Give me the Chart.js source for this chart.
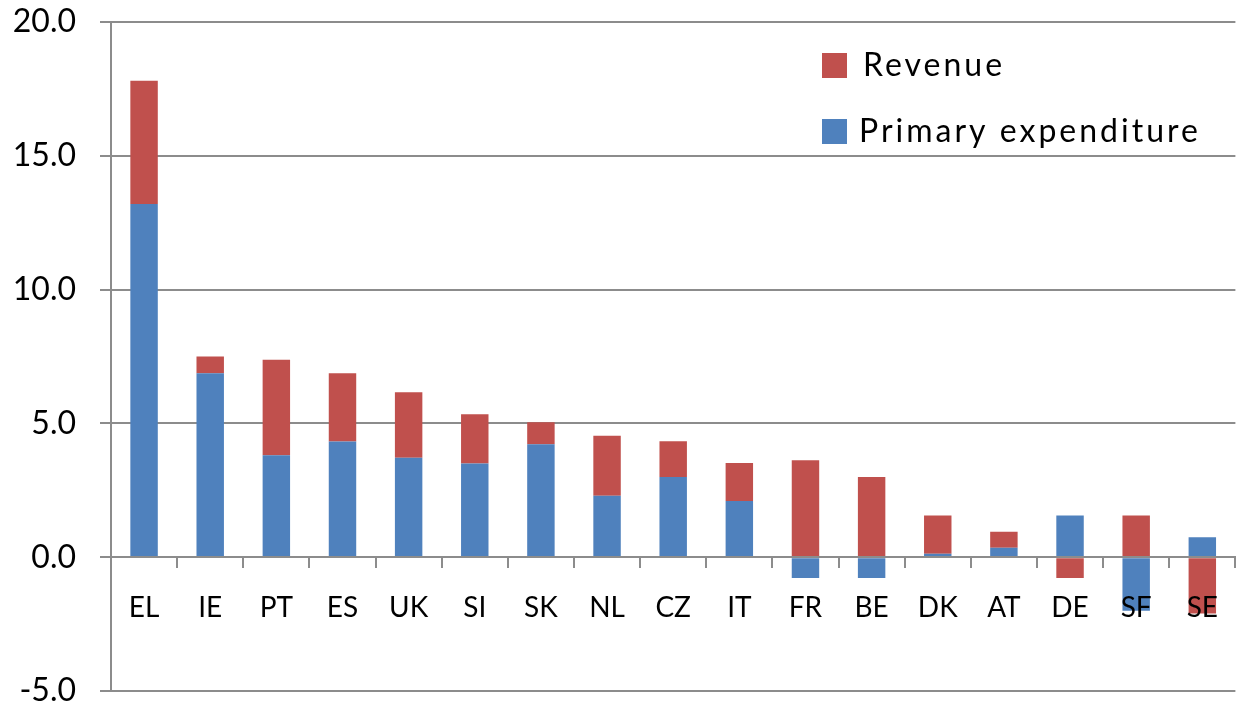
<!DOCTYPE html>
<html>
<head>
<meta charset="utf-8">
<script src="https://cdn.jsdelivr.net/npm/chart.js@4"></script>
<style>
  body { margin: 0; background: #fff; }
</style>
</head>
<body>
<canvas id="myChart" width="1242" height="709"></canvas>
<script>
// categories and series (% of GDP)
var countries = ['EL', 'IE', 'PT', 'ES', 'UK', 'SI', 'SK', 'NL', 'CZ', 'IT', 'FR', 'BE', 'DK', 'AT', 'DE', 'SF', 'SE'];
var primaryExpenditure = [13.2, 6.87, 3.81, 4.32, 3.72, 3.5, 4.22, 2.3, 3.0, 2.1, -0.78, -0.78, 0.13, 0.35, 1.56, -2.0, 0.75];
var revenue = [4.6, 0.63, 3.57, 2.55, 2.44, 1.84, 0.82, 2.24, 1.33, 1.42, 3.62, 3.0, 1.43, 0.6, -0.78, 1.56, -2.1];
var yTicks = [-5, 0, 5, 10, 15, 20];

var gridGrey = '#8c8c8c';
var fontName = 'Lato';

// legend drawn inside the plot, top right, like the original
var insideLegend = {
    id: 'insideLegend',
    afterDraw: function (chart) {
        var c = chart.ctx;
        var items = [
            { text: 'Revenue', color: chart.data.datasets[1].backgroundColor, y: 53, tx: 863 },
            { text: 'Primary expenditure', color: chart.data.datasets[0].backgroundColor, y: 119, tx: 859 }
        ];
        c.save();
        c.font = '32px ' + fontName;
        c.letterSpacing = '3px';
        c.textBaseline = 'middle';
        items.forEach(function (it) {
            c.fillStyle = it.color;
            c.fillRect(822, it.y, 25, 25);
            c.fillStyle = '#000';
            c.fillText(it.text, it.tx, it.y + 13);
        });
        c.restore();
    }
};

function draw() {
    var ctx = document.getElementById('myChart').getContext('2d');
    var myChart = new Chart(ctx, {
        type: 'bar',
        data: {
            labels: countries,
            datasets: [{
                label: 'Primary expenditure',
                data: primaryExpenditure,
                backgroundColor: '#4F81BD',
                stack: 's'
            }, {
                label: 'Revenue',
                data: revenue,
                backgroundColor: '#C0504D',
                stack: 's'
            }]
        },
        options: {
            responsive: false,
            animation: false,
            layout: { padding: { top: 22, right: 0, bottom: 18, left: 12 } },
            datasets: { bar: { barPercentage: 0.415, categoryPercentage: 1 } },
            plugins: {
                legend: { display: false },
                tooltip: { enabled: false }
            },
            scales: {
                x: {
                    stacked: true,
                    position: { y: 0 },
                    offset: true,
                    grid: {
                        offset: true,
                        drawOnChartArea: false,
                        drawTicks: true,
                        tickLength: 10,
                        color: gridGrey,
                        lineWidth: 2,
                        z: 1
                    },
                    border: { display: true, color: gridGrey, width: 2, z: 1 },
                    ticks: {
                        color: '#000',
                        padding: 24,
                        maxRotation: 0,
                        autoSkip: false,
                        z: 1,
                        font: { family: fontName, size: 28 }
                    }
                },
                y: {
                    stacked: true,
                    min: -5,
                    max: 20,
                    afterBuildTicks: function (axis) {
                        axis.ticks = yTicks.map(function (v) { return { value: v }; });
                    },
                    afterFit: function (axis) {
                        axis.width = 99;
                        axis.paddingTop = 0;
                        axis.paddingBottom = 0;
                    },
                    grid: {
                        color: gridGrey,
                        lineWidth: 2,
                        drawTicks: true,
                        tickLength: 11
                    },
                    border: { display: true, color: gridGrey, width: 2 },
                    ticks: {
                        color: '#000',
                        padding: 24,
                        font: { family: fontName, size: 32, lineHeight: 1 },
                        callback: function (v) { return Number(v).toFixed(1); }
                    }
                }
            }
        },
        plugins: [insideLegend]
    });
}

Promise.all([
    document.fonts.load('32px Lato'),
    document.fonts.load('28px Lato')
]).then(draw, draw);
</script>
</body>
</html>
